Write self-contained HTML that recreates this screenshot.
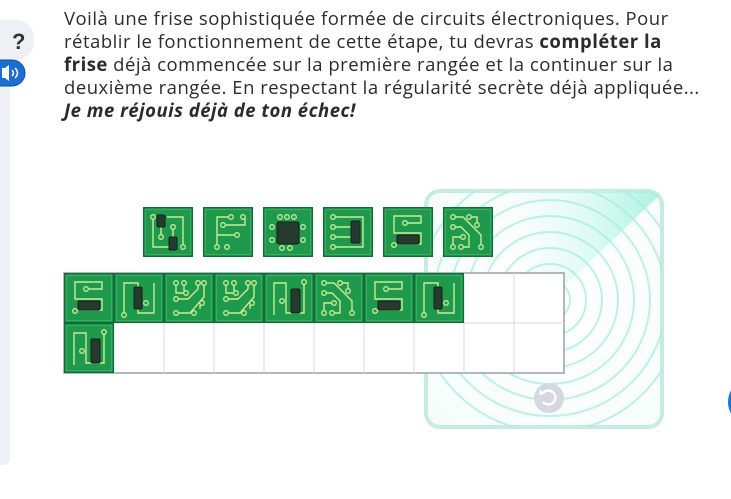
<!DOCTYPE html>
<html><head><meta charset="utf-8"><style>
html,body{margin:0;padding:0;width:731px;height:499px;overflow:hidden;background:#fff;font-family:"Open Sans","Liberation Sans","DejaVu Sans",sans-serif;}
.txt{position:absolute;left:64px;top:7px;font-size:18.5px;line-height:23px;color:#2b2b2b;white-space:nowrap;letter-spacing:0.5px}
svg{position:absolute;left:0;top:0}
</style></head><body>
<svg width="731" height="499" viewBox="0 0 731 499">
<defs>
<radialGradient id="rg" cx="555" cy="300" r="180" gradientUnits="userSpaceOnUse">
<stop offset="0" stop-color="#ffffff"/><stop offset="1" stop-color="#f4fdfa"/></radialGradient>
<linearGradient id="wg" x1="480" y1="0" x2="662" y2="0" gradientUnits="userSpaceOnUse"><stop offset="0" stop-color="#ffffff" stop-opacity="0"/><stop offset="1" stop-color="#9af0dc"/></linearGradient>
<clipPath id="pc"><rect x="426" y="191" width="236" height="236" rx="14"/></clipPath>
<g id="base">
<rect x="0" y="0" width="50" height="50" fill="#0d6e36"/>
<rect x="1.5" y="1.5" width="47" height="47" fill="#35b063"/>
<rect x="3" y="3" width="44" height="44" fill="#1e9a4c"/>
</g>
<g id="pad"><circle r="2.3" fill="#1e9a4c" stroke="#cdeb93" stroke-width="1.3"/></g>
<symbol id="S" viewBox="0 0 50 50"><use href="#base"/>
<g fill="none" stroke="#cdeb93" stroke-width="1.4"><path d="M22 16 H38 V9 H11 V26 H38 V37 H11"/></g>
<use href="#pad" x="22" y="16"/><use href="#pad" x="11" y="38"/>
<rect x="14" y="28" width="22" height="9" rx="1.5" fill="#263a30" stroke="#122018"/></symbol>
<symbol id="N1" viewBox="0 0 50 50"><use href="#base"/>
<g fill="none" stroke="#cdeb93" stroke-width="1.4"><path d="M10 42 V10 H24 V40 H40 V10"/></g>
<use href="#pad" x="10" y="42"/><use href="#pad" x="32" y="30"/>
<rect x="20" y="14" width="8" height="22" rx="1.5" fill="#263a30" stroke="#122018"/></symbol>
<symbol id="N2" viewBox="0 0 50 50"><use href="#base"/>
<g fill="none" stroke="#cdeb93" stroke-width="1.4"><path d="M10 42 V10 H22 V40 H40 V10"/></g>
<use href="#pad" x="18" y="28"/><use href="#pad" x="40" y="9"/>
<rect x="27" y="16" width="9" height="24" rx="1.5" fill="#263a30" stroke="#122018"/></symbol>
<symbol id="Y" viewBox="0 0 50 50"><use href="#base"/>
<g fill="none" stroke="#cdeb93" stroke-width="1.4"><path d="M12 10 V20 H20 M20 10 V18 M34 10 V16 L24 26 H12 M40 10 V24 L26 40 H12 M36 36 V32"/></g>
<use href="#pad" x="12" y="10"/><use href="#pad" x="20" y="10"/><use href="#pad" x="34" y="10"/><use href="#pad" x="40" y="10"/><use href="#pad" x="22" y="20"/><use href="#pad" x="12" y="26"/><use href="#pad" x="12" y="40"/><use href="#pad" x="30" y="40"/><use href="#pad" x="38" y="30"/></symbol>
<symbol id="T" viewBox="0 0 50 50"><use href="#base"/>
<g fill="none" stroke="#cdeb93" stroke-width="1.4"><path d="M10 10 H20 L38 28 V40 M26 10 H34 V18 M10 20 H18 L26 28 V40 H18 M10 40 V30 H20"/></g>
<use href="#pad" x="10" y="10"/><use href="#pad" x="26" y="10"/><use href="#pad" x="34" y="18"/><use href="#pad" x="10" y="20"/><use href="#pad" x="20" y="30"/><use href="#pad" x="10" y="40"/><use href="#pad" x="18" y="40"/><use href="#pad" x="38" y="40"/></symbol>
<symbol id="A" viewBox="0 0 50 50"><use href="#base"/>
<g fill="none" stroke="#cdeb93" stroke-width="1.4"><path d="M10 10 V40 H30 M24 10 H40 V40 M18 18 V30 M30 20 V30"/></g>
<use href="#pad" x="10" y="10"/><use href="#pad" x="18" y="30"/><use href="#pad" x="30" y="20"/><use href="#pad" x="40" y="40"/>
<rect x="14" y="8" width="8" height="12" rx="1.5" fill="#263a30" stroke="#122018"/><rect x="26" y="30" width="8" height="13" rx="1.5" fill="#263a30" stroke="#122018"/></symbol>
<symbol id="E" viewBox="0 0 50 50"><use href="#base"/>
<g fill="none" stroke="#cdeb93" stroke-width="1.4"><path d="M28 10 H14 V40 M14 28 H34 M20 18 H42 V10"/></g>
<use href="#pad" x="28" y="10"/><use href="#pad" x="40" y="10"/><use href="#pad" x="20" y="18"/><use href="#pad" x="34" y="28"/><use href="#pad" x="14" y="40"/><use href="#pad" x="24" y="40"/></symbol>
<symbol id="C" viewBox="0 0 50 50"><use href="#base"/>
<use href="#pad" x="17" y="10"/><use href="#pad" x="24" y="10"/><use href="#pad" x="31" y="10"/><use href="#pad" x="9" y="20"/><use href="#pad" x="9" y="33"/><use href="#pad" x="40" y="20"/><use href="#pad" x="40" y="33"/><use href="#pad" x="19" y="41"/><use href="#pad" x="27" y="41"/>
<rect x="14" y="15" width="22" height="22" rx="2" fill="#263a30" stroke="#122018"/></symbol>
<symbol id="D" viewBox="0 0 50 50"><use href="#base"/>
<g fill="none" stroke="#cdeb93" stroke-width="1.4"><path d="M10 10 H40 V40 H10 M10 20 H30 M10 30 H30"/></g>
<use href="#pad" x="10" y="10"/><use href="#pad" x="10" y="20"/><use href="#pad" x="10" y="30"/><use href="#pad" x="10" y="40"/>
<rect x="28" y="14" width="9" height="22" rx="1.5" fill="#263a30" stroke="#122018"/></symbol>
</defs>

<rect x="-20" y="20" width="30" height="445" rx="6" fill="#eef0f3"/>
<rect x="-20" y="20" width="54" height="40" rx="18" fill="#eef0f3"/>
<text x="12" y="49" font-family="Liberation Sans,sans-serif" font-weight="bold" font-size="22" fill="#333">?</text>
<rect x="-20" y="60" width="45" height="26" rx="13" fill="#1a6fd6" stroke="#0e4fa0" stroke-width="1"/>
<path d="M2 68 h3 l4 -3 v16 l-4 -3 h-3z" fill="#fff"/>
<path d="M12 70 q3 3 0 6 M15 68 q5 5 0 10" fill="none" stroke="#fff" stroke-width="1.5"/>

<rect x="426" y="191" width="236" height="236" rx="14" fill="url(#rg)" stroke="#c6ece2" stroke-width="4"/>
<g clip-path="url(#pc)">
<path d="M550 300 L470 185 L670 185 Z" fill="url(#wg)" opacity="0.85"/>
<g fill="none" stroke="#a6eedc" stroke-width="2" opacity="0.75">
<circle cx="550" cy="300" r="20"/><circle cx="550" cy="300" r="36"/><circle cx="550" cy="300" r="52"/><circle cx="550" cy="300" r="68"/><circle cx="550" cy="300" r="84"/><circle cx="550" cy="300" r="100"/><circle cx="550" cy="300" r="116"/><circle cx="550" cy="300" r="132"/>
</g>
</g>
<circle cx="549" cy="398" r="15" fill="#d5d8e3"/>
<path d="M543 393 a7 7 0 1 1 0 9" fill="none" stroke="#fff" stroke-width="2.4"/>
<path d="M540 389 l4 5 l-5 1z" fill="#fff"/>

<rect x="64" y="273" width="500" height="100" fill="#fff" stroke="#9aa0a8" stroke-width="1.5"/>
<g stroke="#d6d8dc" stroke-width="1">
<line x1="64" y1="323" x2="564" y2="323"/>
<line x1="114" y1="273" x2="114" y2="373"/><line x1="164" y1="273" x2="164" y2="373"/><line x1="214" y1="273" x2="214" y2="373"/><line x1="264" y1="273" x2="264" y2="373"/><line x1="314" y1="273" x2="314" y2="373"/><line x1="364" y1="273" x2="364" y2="373"/><line x1="414" y1="273" x2="414" y2="373"/><line x1="464" y1="273" x2="464" y2="373"/><line x1="514" y1="273" x2="514" y2="373"/>
</g>
<use href="#S" x="64" y="273" width="50" height="50"/>
<use href="#N1" x="114" y="273" width="50" height="50"/>
<use href="#Y" x="164" y="273" width="50" height="50"/>
<use href="#Y" x="214" y="273" width="50" height="50"/>
<use href="#N2" x="264" y="273" width="50" height="50"/>
<use href="#T" x="314" y="273" width="50" height="50"/>
<use href="#S" x="364" y="273" width="50" height="50"/>
<use href="#N1" x="414" y="273" width="50" height="50"/>
<use href="#N2" x="64" y="323" width="50" height="50"/>

<use href="#A" x="143" y="207" width="50" height="50"/>
<use href="#E" x="203" y="207" width="50" height="50"/>
<use href="#C" x="263" y="207" width="50" height="50"/>
<use href="#D" x="323" y="207" width="50" height="50"/>
<use href="#S" x="383" y="207" width="50" height="50"/>
<use href="#T" x="443" y="207" width="50" height="50"/>

<circle cx="752" cy="402" r="24" fill="#1a78e0"/>
</svg>
<div class="txt">Voilà une frise sophistiquée formée de circuits électroniques. Pour<br>rétablir le fonctionnement de cette étape, tu devras <b>compléter la</b><br><b>frise</b> déjà commencée sur la première rangée et la continuer sur la<br>deuxième rangée. En respectant la régularité secrète déjà appliquée...<br><b><i>Je me réjouis déjà de ton échec!</i></b></div>
</body></html>
